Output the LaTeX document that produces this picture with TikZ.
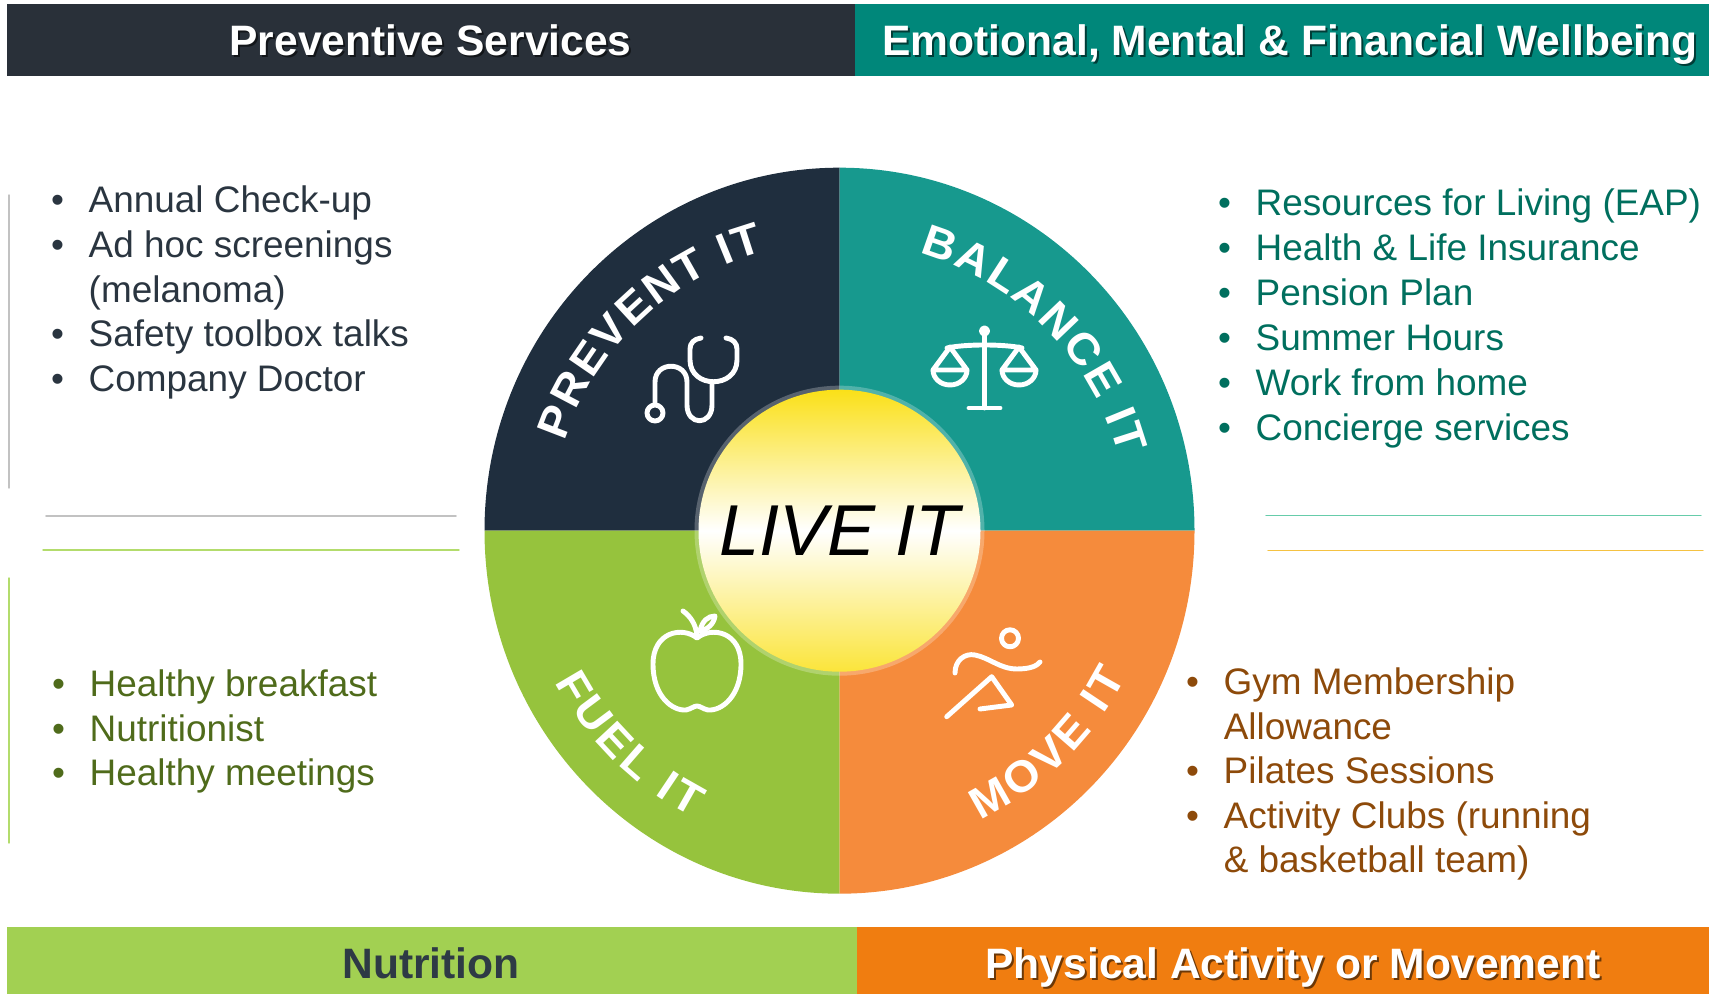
\documentclass[tikz,border=0pt]{standalone}
\usepackage{fontspec}
\setmainfont{Liberation Sans}
\newfontfamily\ringfam{Liberation Sans}[FakeStretch=1.05]
\usepackage{pgf,tikz}
\usetikzlibrary{decorations}
\usetikzlibrary{decorations.text}
\usetikzlibrary{calc}
\usetikzlibrary{arrows}

\definecolor{hddark}{HTML}{293039}
\definecolor{hdteal}{HTML}{00877A}
\definecolor{bargreen}{HTML}{A2D052}
\definecolor{barorange}{HTML}{F07D10}
\definecolor{qprev}{HTML}{1F2E3E}
\definecolor{qbal}{HTML}{17998E}
\definecolor{qfuel}{HTML}{96C33D}
\definecolor{qmove}{HTML}{F58B3C}
\definecolor{txtdark}{HTML}{2A3540}
\definecolor{txtolive}{HTML}{4F6B1B}
\definecolor{txtteal}{HTML}{006F5E}
\definecolor{txtbrown}{HTML}{8D4A0A}
\definecolor{txtnutri}{HTML}{2E3A45}
\definecolor{lngrey}{HTML}{C2C2C2}
\definecolor{lngreen}{HTML}{B3DC6C}
\definecolor{lnteal}{HTML}{66CCAA}
\definecolor{lnyellow}{HTML}{F5C242}
\definecolor{liveyellow}{HTML}{FAE018}

\newcommand{\ringfont}{\fontsize{12.5}{14}\selectfont\ringfam\bfseries}
\newcommand{\bulgap}{@{\hspace{7pt}}}

\begin{document}
\begin{tikzpicture}[line cap=round,line join=round,x=0.01cm,y=0.01cm]
\useasboundingbox (0,0) rectangle (1709,994);
\tikzstyle{bartext}=[inner sep=0pt, anchor=base, font=\fontsize{12.1}{14}\selectfont\bfseries]
\tikzstyle{barshadow}=[bartext, text=black, opacity=0.55]
\tikzstyle{listtext}=[inner sep=0pt, anchor=base west]
\tikzstyle{iconline}=[draw=white, line width=1.4pt]
\tikzstyle{ringtext}=[decorate, decoration={text along path, text align={fit to path}, text color=white}]
\coordinate (ctr) at (839.5,463.3);

% bars on top and bottom
\fill[hddark] (6.5,918) rectangle (854.5,990);
\fill[hdteal] (854.5,918) rectangle (1709,990);
\fill[bargreen] (6.5,0) rectangle (857,67);
\fill[barorange] (857,0) rectangle (1709,67);
\node[barshadow] (hdprevs) at (432.5,936.5) {Preventive Services};
\node[bartext, text=white] (hdprev) at (430.5,938.5) {Preventive Services};
\node[barshadow] (hdbals) at (1292,936.5) {Emotional, Mental \& Financial Wellbeing};
\node[bartext, text=white] (hdbal) at (1290,938.5) {Emotional, Mental \& Financial Wellbeing};
\node[bartext, text=txtnutri] (hdfuel) at (431,15) {Nutrition};
\node[barshadow] (hdmoves) at (1295,13) {Physical Activity or Movement};
\node[bartext, text=white] (hdmove) at (1293,15) {Physical Activity or Movement};

% side rules
\draw [line width=0.4pt, color=lngrey] (9,799)-- (9,506);
\draw [line width=0.4pt, color=lngreen] (9,416)-- (9,151);
\draw [line width=0.5pt, color=lngrey] (46,478)-- (456,478);
\draw [line width=0.4pt, color=lngreen] (43,444)-- (459,444);
\draw [line width=0.4pt, color=lnteal] (1266,478.5)-- (1701,478.5);
\draw [line width=0.4pt, color=lnyellow] (1268,443.5)-- (1703,443.5);

% wheel
\fill[qprev] (ctr) -- ++(0,363) arc[start angle=90, end angle=180, x radius=355, y radius=363] -- cycle;
\fill[qbal] (ctr) -- ++(355,0) arc[start angle=0, end angle=90, x radius=355, y radius=363] -- cycle;
\fill[qfuel] (ctr) -- ++(-355,0) arc[start angle=180, end angle=270, x radius=355, y radius=363] -- cycle;
\fill[qmove] (ctr) -- ++(0,-363) arc[start angle=270, end angle=360, x radius=355, y radius=363] -- cycle;
\fill[white, opacity=0.25] (ctr) circle[radius=145];
\shade[top color=liveyellow, bottom color=liveyellow!85!white, middle color=white] (ctr) circle[radius=141];
\node[inner sep=0pt, font=\fontsize{20.5}{24}\selectfont\itshape] (liveit) at (ctr) {LIVE IT};

\path[ringtext, decoration={text={|\ringfont|PREVENT IT}}] ($(ctr)+(162:289)$) arc[start angle=162, end angle=105, radius=289];
\path[ringtext, decoration={text={|\ringfont|BALANCE IT}}] ($(ctr)+(74:289)$) arc[start angle=74, end angle=15, radius=289];
\path[ringtext, decoration={text={|\ringfont|FUEL IT}}] ($(ctr)+(208:322)$) arc[start angle=208, end angle=243, radius=322];
\path[ringtext, decoration={text={|\ringfont|MOVE IT}}] ($(ctr)+(296:322)$) arc[start angle=296, end angle=333, radius=322];

% stethoscope
\draw[iconline] (655,581) circle[radius=8];
\draw[iconline] (655,591) -- (655,612) .. controls (655,633) and (687,633) .. (687,612) -- (687,589) .. controls (687,568) and (712,568) .. (712,589) -- (712,610);
\draw[iconline] (701,656) .. controls (694,655) and (690,651) .. (690,645) -- (690,634) .. controls (690,605) and (737,605) .. (737,634) -- (737,645) .. controls (737,651) and (733,655) .. (726,656);
% scales
\draw[iconline] (984.5,663) circle[radius=3];
\draw[iconline] (984.5,659) -- (984.5,586);
\draw[iconline] (969,586) -- (1000,586);
\draw[iconline] (947,646) .. controls (965,650) and (1004,650) .. (1022,646);
\draw[iconline] (950,647) -- (933,624) -- (967,624) -- cycle;
\draw[iconline] (933,624) arc[start angle=180, end angle=360, x radius=17, y radius=15];
\draw[iconline] (1019,647) -- (1002,624) -- (1036,624) -- cycle;
\draw[iconline] (1002,624) arc[start angle=180, end angle=360, x radius=17, y radius=15];
% apple
\draw[iconline] (697,356) .. controls (682,368) and (653,362) .. (653,330) .. controls (653,298) and (672,283) .. (686,284) .. controls (691,285) and (694,288) .. (697,288) .. controls (700,288) and (703,285) .. (708,284) .. controls (722,283) and (741,298) .. (741,330) .. controls (741,362) and (712,368) .. (697,356) -- cycle;
\draw[iconline] (697,358) .. controls (696,370) and (690,378) .. (683,383);
\draw[iconline] (700,363) .. controls (702,373) and (708,378) .. (715,378) .. controls (714,370) and (707,364) .. (700,363);
% runner
\draw[iconline] (1010,355.7) circle[radius=8.5];
\draw[iconline] (955,321) .. controls (955,334) and (965,341) .. (975,339) .. controls (990,336) and (1000,325) .. (1017,325) .. controls (1030,325) and (1037,328) .. (1040,332);
\draw[iconline] (946.7,277.3) -- (991.7,317.3) -- (1011.7,289) -- (980,285);

% lists
\node[listtext, text=txtdark, font=\fontsize{10.5}{12.66}\selectfont] (listprev) at (50.5,781) {\begin{tabular}[t]{@{}l\bulgap l@{}}
\textbullet & Annual Check-up\\
\textbullet & Ad hoc screenings\\
 & (melanoma)\\
\textbullet & Safety toolbox talks\\
\textbullet & Company Doctor
\end{tabular}};
\node[listtext, text=txtteal, font=\fontsize{10.5}{12.78}\selectfont] (listbal) at (1217.5,778.5) {\begin{tabular}[t]{@{}l\bulgap l@{}}
\textbullet & Resources for Living (EAP)\\
\textbullet & Health \& Life Insurance\\
\textbullet & Pension Plan\\
\textbullet & Summer Hours\\
\textbullet & Work from home\\
\textbullet & Concierge services
\end{tabular}};
\node[listtext, text=txtolive, font=\fontsize{10.5}{12.6}\selectfont] (listfuel) at (51.5,297) {\begin{tabular}[t]{@{}l\bulgap l@{}}
\textbullet & Healthy breakfast\\
\textbullet & Nutritionist\\
\textbullet & Healthy meetings
\end{tabular}};
\node[listtext, text=txtbrown, font=\fontsize{10.5}{12.65}\selectfont] (listmove) at (1185.5,299) {\begin{tabular}[t]{@{}l\bulgap l@{}}
\textbullet & Gym Membership\\
 & Allowance\\
\textbullet & Pilates Sessions\\
\textbullet & Activity Clubs (running\\
 & \& basketball team)
\end{tabular}};
\end{tikzpicture}
\end{document}
